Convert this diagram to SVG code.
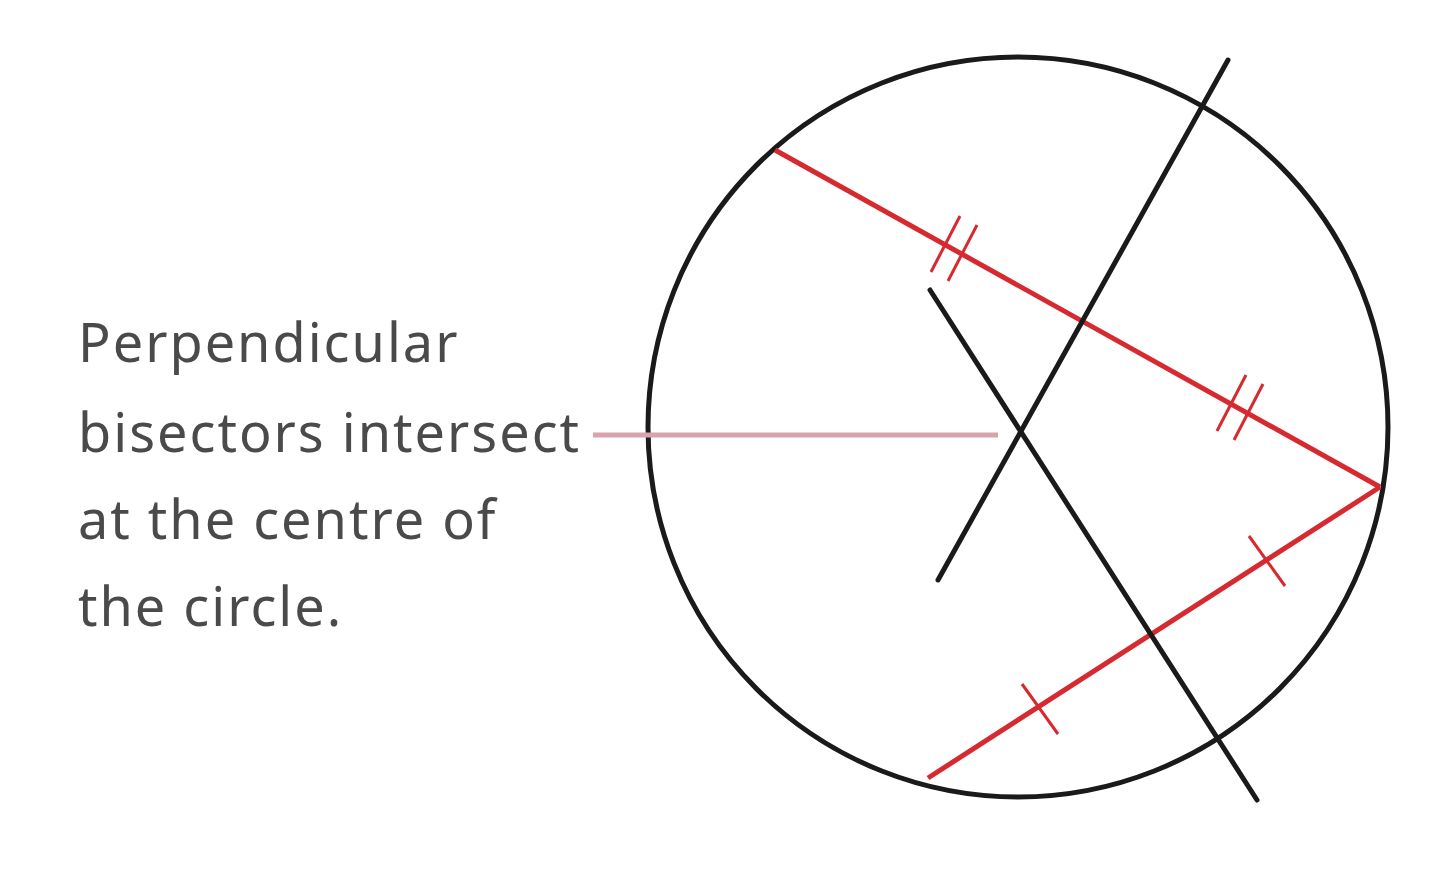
<svg xmlns="http://www.w3.org/2000/svg" width="1440" height="883" viewBox="0 0 1440 883">
<style>
.lbl{font-family:"Noto Sans","Open Sans",sans-serif;font-size:54px;letter-spacing:2px;fill:#4a4a4a}
.blk{stroke:#1a1a1a;stroke-width:5;fill:none;stroke-linecap:round}
.red{stroke:#d62a30;stroke-width:5;fill:none}
.tick{stroke:#d62a30;stroke-width:3;fill:none}
.lead{stroke:#d8a4aa;stroke-width:5;fill:none}
</style>
<rect width="1440" height="883" fill="#ffffff"/>
<g id="circle">
<circle cx="1018" cy="427" r="370" class="blk"/>
</g>
<g id="chords">
<line x1="775" y1="150" x2="1380" y2="487" class="red"/>
<line x1="1380" y1="487" x2="928" y2="778" class="red"/>
</g>
<g id="ticks">
<line x1="960" y1="216" x2="931" y2="272" class="tick"/>
<line x1="977" y1="225" x2="948" y2="281" class="tick"/>
<line x1="1246" y1="375" x2="1217" y2="431" class="tick"/>
<line x1="1263" y1="384" x2="1234" y2="440" class="tick"/>
<line x1="1249" y1="536" x2="1285" y2="586" class="tick"/>
<line x1="1022" y1="684" x2="1058" y2="734" class="tick"/>
</g>
<g id="connectors">
<line x1="1228" y1="60" x2="938" y2="580" class="blk"/>
<line x1="930" y1="290" x2="1257" y2="800" class="blk"/>
<line x1="593" y1="435" x2="998" y2="435" class="lead"/>
</g>
<g id="label">
<text class="lbl" x="78" y="362">Perpendicular</text>
<text class="lbl" x="78" y="452">bisectors intersect</text>
<text class="lbl" x="78" y="539">at the centre of</text>
<text class="lbl" x="78" y="626">the circle.</text>
</g>
</svg>
